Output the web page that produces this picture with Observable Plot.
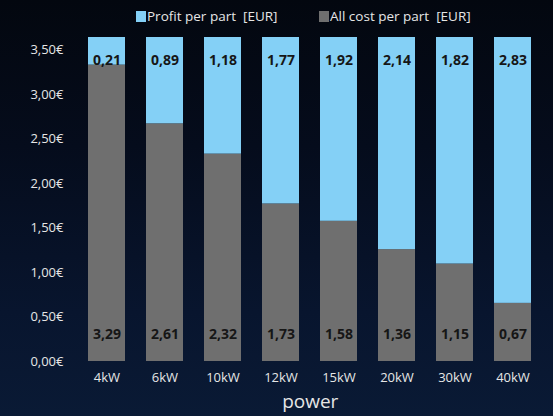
<!DOCTYPE html>
<html>
<head>
<meta charset="utf-8">
<script src="https://cdn.jsdelivr.net/npm/d3@7"></script>
<script src="https://cdn.jsdelivr.net/npm/@observablehq/plot@0.6"></script>
<style>
  html, body { margin: 0; padding: 0; }
  body { width: 553px; height: 416px; overflow: hidden; }
  #wrap {
    width: 553px; height: 416px;
    background: linear-gradient(to bottom, #03070f 0%, #050c1c 35%, #08152e 75%, #0a1a35 100%);
    font-family: "Open Sans", sans-serif;
  }
  #legend {
    height: 30px; position: relative; color: #e6e6e6; font-size: 13.5px;
  }
  .item { position: absolute; top: 7px; display: flex; align-items: center; white-space: pre; }
  .sw { width: 10px; height: 11px; margin-right: 1px; }
</style>
</head>
<body>
<div id="wrap">
  <div id="legend"></div>
  <div id="chart"></div>
</div>
<script>
const powers = ["4kW", "6kW", "10kW", "12kW", "15kW", "20kW", "30kW", "40kW"];
// bar heights as drawn in the picture (EUR)
const costDrawn = [3.33, 2.67, 2.33, 1.77, 1.575, 1.257, 1.095, 0.653];
const topDrawn = 3.64;
// printed labels
const costLabels = ["3,29", "2,61", "2,32", "1,73", "1,58", "1,36", "1,15", "0,67"];
const profitLabels = ["0,21", "0,89", "1,18", "1,77", "1,92", "2,14", "1,82", "2,83"];
const yTicks = [0, 0.5, 1, 1.5, 2, 2.5, 3, 3.5];
const series = ["Profit per part  [EUR]", "All cost per part  [EUR]"];
const colors = ["#84d0f6", "#6f6f6f"];

const rows = [];
powers.forEach((p, i) => {
  rows.push({power: p, kind: series[1], v: costDrawn[i]});
  rows.push({power: p, kind: series[0], v: topDrawn - costDrawn[i]});
});
const labelRows = powers.map((p, i) => ({power: p, cost: costLabels[i], profit: profitLabels[i]}));

// legend
const legend = document.getElementById("legend");
const lx = [136, 319];
series.forEach((s, i) => {
  const d = document.createElement("div");
  d.className = "item";
  d.style.left = lx[i] + "px";
  d.innerHTML = `<span class="sw" style="background:${colors[i]}"></span><span>${s}</span>`;
  legend.appendChild(d);
});

const chart = Plot.plot({
  width: 553,
  height: 386,
  marginTop: 7,
  marginBottom: 55,
  marginLeft: 74,
  marginRight: 7.5,
  style: {background: "transparent", color: "#e6e6e6", fontFamily: "Open Sans, sans-serif", fontSize: "13px"},
  x: {domain: powers, paddingInner: 0.37, paddingOuter: 0.2, label: "power", labelAnchor: "center", labelOffset: 46, tickSize: 0, tickPadding: 11},
  y: {domain: [0, topDrawn], ticks: yTicks, tickFormat: d => d.toFixed(2).replace(".", ",") + "€", tickSize: 0, tickPadding: 11, label: null},
  color: {domain: series, range: colors},
  marks: [
    Plot.barY(rows, Plot.stackY({x: "power", y: "v", fill: "kind", order: series.slice().reverse()})),
    Plot.text(labelRows, {x: "power", text: "profit", frameAnchor: "top", dy: 18, fill: "#161616", fontWeight: "bold", fontSize: 14}),
    Plot.text(labelRows, {x: "power", text: "cost", frameAnchor: "bottom", dy: -23, fill: "#161616", fontWeight: "bold", fontSize: 14})
  ]
});
document.getElementById("chart").appendChild(chart);
chart.querySelectorAll("g[aria-label='x-axis label'] text").forEach(t => { t.style.fontSize = "19px"; });
</script>
</body>
</html>
